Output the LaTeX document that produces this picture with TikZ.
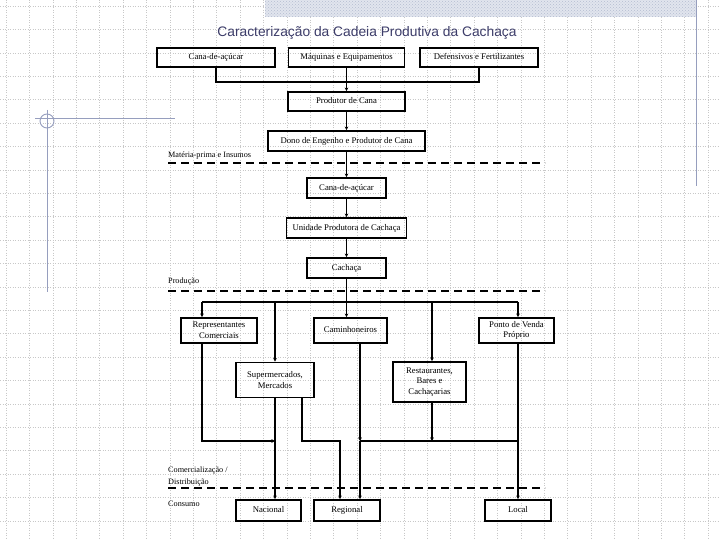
\documentclass[tikz,border=0pt]{standalone}
\usepackage{fontspec}
\setmainfont{Liberation Serif}
\newfontfamily\titlefont{Liberation Sans}
\usetikzlibrary{arrows.meta,patterns}
\definecolor{ttl}{RGB}{60,60,105}
\definecolor{deco}{RGB}{150,158,190}
\definecolor{band}{RGB}{225,229,238}
\definecolor{bandp}{RGB}{180,188,208}
\definecolor{gridc}{RGB}{200,200,200}
\begin{document}
\begin{tikzpicture}[x=1pt,y=-1pt,
 box/.style={draw,line width=1.7pt,inner sep=1pt,align=center,font=\fontsize{8.7}{10.8}\selectfont},
 one/.style={text height=6pt,text depth=1.5pt},
 conn/.style={line width=1.3pt},
 arr/.style={conn,-{Stealth[length=3.6pt,width=3.6pt]}},
 sepline/.style={line width=2.2pt,dash pattern=on 8pt off 5pt},
 lbl/.style={anchor=base west,inner sep=0,font=\fontsize{8.2}{10}\selectfont},
 gridline/.style={gridc,dotted,line width=0.5pt},
 decoline/.style={deco,line width=0.9pt}]
\useasboundingbox (0,0) rectangle (720,540);
\fill[white] (0,0) rectangle (720,540);
% background grid
\foreach \i in {0,...,30} {
  \draw[gridline] (6+23.4*\i,0) -- (6+23.4*\i,540);
}
\foreach \j in {0,...,23} {
  \draw[gridline] (0,6+23.4*\j) -- (720,6+23.4*\j);
}
% decoration
\fill[band] (265,0) rectangle (696,17);
\fill[pattern=crosshatch dots,pattern color=bandp] (265,0) rectangle (696,17);
\draw[decoline] (696,0) -- (696,186);
\draw[decoline] (35,118) -- (175,118);
\draw[decoline] (47,110) -- (47,292);
\draw[decoline] (47,121) circle (7);
% title
\node[text=ttl,font=\titlefont\fontsize{13.8}{16}\selectfont] (title) at (367,33) {Caracterização da Cadeia Produtiva da Cachaça};
% boxes
\node[box,one,minimum width=118pt,minimum height=19pt] (a) at (216,57.5) {Cana-de-açúcar};
\node[box,one,minimum width=116pt,minimum height=19pt] (b) at (346.5,57.5) {Máquinas e Equipamentos};
\node[box,one,minimum width=118pt,minimum height=19pt] (c) at (479,57.5) {Defensivos e Fertilizantes};
\node[box,one,minimum width=117pt,minimum height=19pt] (pc) at (346.5,101.5) {Produtor de Cana};
\node[box,one,minimum width=157pt,minimum height=20pt] (dono) at (346.5,141) {Dono de Engenho e Produtor de Cana};
\node[box,one,minimum width=79pt,minimum height=20pt] (cana) at (346.5,188) {Cana-de-açúcar};
\node[box,one,minimum width=120pt,minimum height=20pt] (unid) at (346.5,228) {Unidade Produtora de Cachaça};
\node[box,one,minimum width=79pt,minimum height=20pt] (cach) at (346.5,268) {Cachaça};
\node[box,minimum width=76pt,minimum height=25pt] (rep) at (219,330.5) {Representantes\\Comerciais};
\node[box,one,minimum width=73pt,minimum height=25pt] (cam) at (350.5,330.5) {Caminhoneiros};
\node[box,minimum width=75pt,minimum height=25pt] (pv) at (516.5,330.5) {Ponto de Venda\\Próprio};
\node[box,minimum width=78pt,minimum height=35pt] (sup) at (275,380) {Supermercados,\\Mercados};
\node[box,minimum width=73pt,minimum height=40pt] (res) at (429.5,382) {Restaurantes,\\Bares e\\Cachaçarias};
\node[box,one,minimum width=65pt,minimum height=21pt] (nac) at (268.5,510.5) {Nacional};
\node[box,one,minimum width=66pt,minimum height=21pt] (reg) at (347,510.5) {Regional};
\node[box,one,minimum width=66pt,minimum height=21pt] (loc) at (518,510.5) {Local};
% labels
\node[lbl] (l1) at (168,158) {Matéria-prima e Insumos};
\node[lbl] (l2) at (168,283) {Produção};
\node[lbl] (l3) at (168,472) {Comercialização /};
\node[lbl] (l4) at (168,484) {Distribuição};
\node[lbl] (l5) at (168,506) {Consumo};
% separators
\coordinate (s1a) at (168,163); \coordinate (s1b) at (545,163);
\coordinate (s2a) at (168,291); \coordinate (s2b) at (545,291);
\coordinate (s3a) at (168,488); \coordinate (s3b) at (545,488);
% junctions
\coordinate (j1) at (346.5,82);
\coordinate (j2) at (346.5,302);
\coordinate (h1) at (202,302);
\coordinate (h2) at (275,302);
\coordinate (h4) at (432,302);
\coordinate (h5) at (518,302);
\coordinate (k1) at (202,441);
\coordinate (k2) at (275,441);
\coordinate (k3) at (302,441);
\coordinate (k4) at (340,441);
\coordinate (k5) at (360,441);
\coordinate (k6) at (432,441);
\coordinate (k7) at (518,441);
% connectors top
\draw[conn] (a.south) |- (j1);
\draw[conn] (c.south) |- (j1);
\draw[conn] (b.south) -- (j1);
\draw[arr] (j1) -- (pc.north);
\draw[arr] (pc.south) -- (dono.north);
\draw[arr] (dono.south) -- (cana.north);
\draw[arr] (cana.south) -- (unid.north);
\draw[arr] (unid.south) -- (cach.north);
\draw[conn] (cach.south) -- (j2);
\draw[conn] (h1) -- (h5);
\draw[arr] (h1) -- (rep.north -| h1);
\draw[arr] (h2) -- (sup.north -| h2);
\draw[arr] (j2) -- (cam.north -| j2);
\draw[arr] (h4) -- (res.north -| h4);
\draw[arr] (h5) -- (pv.north -| h5);
% connectors bottom
\draw[arr] (rep.south -| k1) |- (k2);
\draw[arr] (sup.south -| k2) -- (nac.north -| k2);
\draw[arr] (sup.south -| k3) -- (k3) -| (reg.north -| k4);
\draw[arr] (cam.south -| k5) -- (k5);
\draw[arr] (k5) -- (reg.north -| k5);
\draw[arr] (res.south -| k6) -- (k6);
\draw[conn] (k5) -- (k7);
\draw[arr] (pv.south -| k7) -- (loc.north -| k7);
% separator lines
\draw[sepline] (s1a) -- (s1b);
\draw[sepline] (s2a) -- (s2b);
\draw[sepline] (s3a) -- (s3b);
\end{tikzpicture}
\end{document}
